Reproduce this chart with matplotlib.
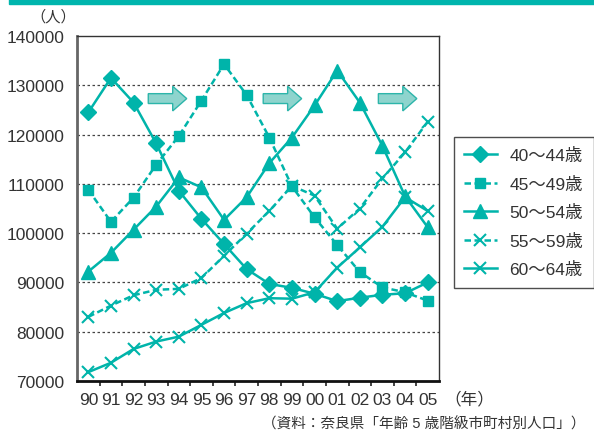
import matplotlib
matplotlib.use("Agg")
import matplotlib.pyplot as plt
from matplotlib.patches import FancyArrow, Rectangle

plt.rcParams['font.family'] = ['Liberation Sans', 'Noto Sans CJK JP']

years = ["90", "91", "92", "93", "94", "95", "96", "97",
         "98", "99", "00", "01", "02", "03", "04", "05"]
labels = ["40～44歳", "45～49歳", "50～54歳", "55～59歳", "60～64歳"]

a40 = [124500, 131500, 126500, 118200, 108600, 102900, 97800, 92700,
       89700, 88900, 87700, 86200, 86900, 87500, 87800, 90000]
a45 = [108800, 102300, 107200, 113900, 119700, 126900, 134300, 128000,
       119400, 109500, 103200, 97600, 92100, 89000, 88000, 86300]
a50 = [92200, 96000, 100700, 105400, 111300, 109300, 102700, 107300,
       114200, 119400, 125900, 133000, 126500, 117700, 107500, 101200]
a55 = [83000, 85300, 87400, 88500, 88700, 90900, 95400, 99900,
       104500, 109600, 107600, 100900, 105000, 111100, 116400, 122600]
a60 = [71800, 73700, 76500, 78000, 79000, 81400, 83800, 85800,
       86800, 86700, 88000, 93000, 97100, 101300, 107300, 104500]

# arrow annotations (start in category units, y in persons)
arrow_x = [2.65, 7.73, 12.82]
arrow_y = 127300

TEAL = "#00b4aa"
DASH = (0, (2.6, 1.4))

fig = plt.figure(figsize=(5.94, 4.35), dpi=100)
fig.patches.append(Rectangle((9 / 594, 1 - 4.7 / 435), 1, 4.7 / 435,
                             transform=fig.transFigure, color="#00b5ad"))

ax = fig.add_axes([77 / 594, 53 / 435, 362 / 594, 345 / 435])
x = list(range(len(years)))

series = [
    (a40, "-", "D", 8, 1),
    (a45, DASH, "s", 7.5, 1),
    (a50, "-", "^", 10.5, 1),
    (a55, DASH, "x", 8, 1.5),
    (a60, "-", "x", 8, 1.5),
]
handles = []
for (vals, ls, mk, ms, mew), lab in zip(series, labels):
    ln, = ax.plot(x, vals, color=TEAL, linestyle=ls, linewidth=1.8,
                  marker=mk, markersize=ms, markeredgewidth=mew,
                  markerfacecolor=TEAL, markeredgecolor=TEAL, label=lab)
    handles.append(ln)

for ax0 in arrow_x:
    ax.add_patch(FancyArrow(ax0, arrow_y, 1.70, 0, width=2000,
                            head_width=5000, head_length=0.62,
                            length_includes_head=True,
                            facecolor="#8ed4cd", edgecolor="#2db5aa",
                            linewidth=1.0, zorder=3))

ax.set_xlim(-0.5, len(years) - 0.5)
ax.set_ylim(70000, 140000)
ax.set_yticks(range(70000, 140001, 10000))
ax.set_yticklabels([str(v) for v in range(70000, 140001, 10000)])
ax.set_xticks(x)
ax.set_xticklabels(years)
ax.set_xticks([i - 0.5 for i in range(1, len(years))], minor=True)
ax.tick_params(axis="x", which="major", length=0, pad=8,
               labelsize=12.5, labelcolor="#333333")
ax.tick_params(axis="x", which="minor", length=3.5, width=1.2,
               direction="out", color="#222222")
ax.tick_params(axis="y", length=0, pad=9, labelsize=12.5,
               labelcolor="#333333")

for v in range(80000, 140000, 10000):
    ax.axhline(v, color="#444444", linewidth=0.9, linestyle=(0, (2, 2)),
               zorder=0)

ax.spines["left"].set_color("#666666")
ax.spines["left"].set_linewidth(2)
ax.spines["bottom"].set_color("#111111")
ax.spines["bottom"].set_linewidth(2)
for s in ("top", "right"):
    ax.spines[s].set_color("#333333")
    ax.spines[s].set_linewidth(1)

fig.text(30 / 594, 1 - 17 / 435, "（人）", fontsize=11, color="#333333",
         ha="left", va="center")
fig.text(444 / 594, 1 - 399 / 435, "（年）", fontsize=12, color="#333333",
         ha="left", va="center")
fig.text(586 / 594, 1 - 424 / 435, "（資料：奈良県「年齢 5 歳階級市町村別人口」）",
         fontsize=10.5, color="#333333", ha="right", va="center")

leg = fig.legend(handles=handles, loc="upper left",
                 bbox_to_anchor=(454 / 594, 1 - 138 / 435),
                 fontsize=12.5, frameon=True, fancybox=False,
                 handlelength=1.85, handletextpad=0.75, labelspacing=0.72,
                 borderpad=0.6, borderaxespad=0, labelcolor="#333333")
leg.get_frame().set_edgecolor("#222222")
leg.get_frame().set_linewidth(1.0)

fig.savefig("out.png", dpi=100)
